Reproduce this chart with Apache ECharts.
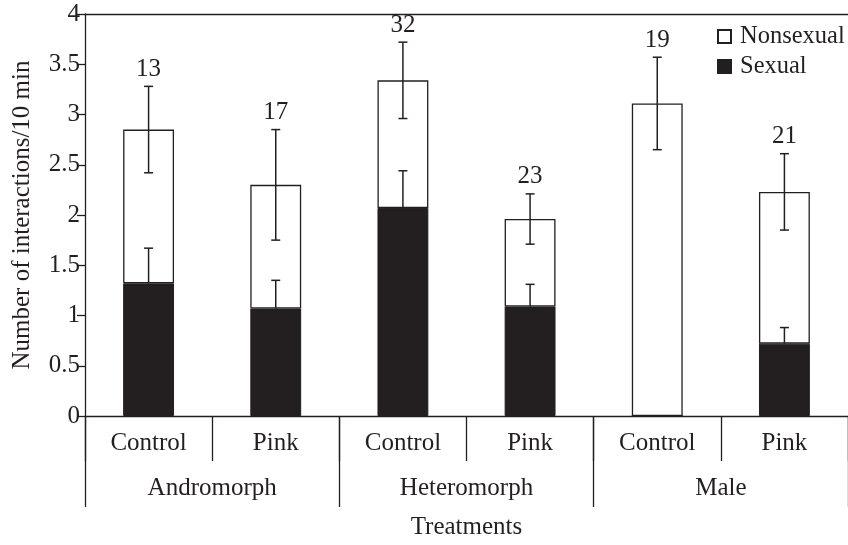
<!DOCTYPE html>
<html>
<head>
<meta charset="utf-8">
<script src="https://cdn.jsdelivr.net/npm/echarts@6/dist/echarts.min.js"></script>
<style>
html,body{margin:0;padding:0;background:#fff;overflow:hidden;}
#chart{width:848px;height:545px;}
</style>
</head>
<body>
<div id="chart"></div>
<script>
// ---- data ----
var treatments = ['Control', 'Pink', 'Control', 'Pink', 'Control', 'Pink'];
var groups = ['Andromorph', 'Heteromorph', 'Male'];
var sexual = [1.32, 1.07, 2.07, 1.09, 0, 0.72];
var nonsexual = [1.53, 1.23, 1.27, 0.87, 3.11, 1.51];
var totalErr = [0.43, 0.55, 0.38, 0.25, 0.46, 0.38];
var sexualErr = [0.35, 0.28, 0.37, 0.22, 0, 0.16];
var sampleN = [13, 17, 32, 23, 19, 21];
var yTicks = [0, 0.5, 1, 1.5, 2, 2.5, 3, 3.5, 4];

var INK = '#231f20';
var FONT = '"Liberation Serif", "Times New Roman", serif';
var FS = 25;

var totalErrData = [];
var sexErrData = [];
for (var i = 0; i < treatments.length; i++) {
  totalErrData.push([i, sexual[i] + nonsexual[i], totalErr[i], sampleN[i]]);
  sexErrData.push([i, sexual[i], sexualErr[i]]);
}

function errRender(both, showN) {
  return function (params, api) {
    var x = api.value(0), v = api.value(1), e = api.value(2);
    if (!(e > 0)) return null;
    var top = api.coord([x, v + e]);
    var bot = api.coord([x, both ? v - e : v]);
    var hw = 4.5;
    var st = { stroke: INK, lineWidth: 1.5 };
    var ch = [
      { type: 'line', shape: { x1: top[0], y1: top[1], x2: bot[0], y2: bot[1] }, style: st },
      { type: 'line', shape: { x1: top[0] - hw, y1: top[1], x2: top[0] + hw, y2: top[1] }, style: st }
    ];
    if (both) {
      ch.push({ type: 'line', shape: { x1: bot[0] - hw, y1: bot[1], x2: bot[0] + hw, y2: bot[1] }, style: st });
    }
    if (showN) {
      ch.push({ type: 'text', style: { text: String(api.value(3)), x: top[0], y: top[1] - 17,
        align: 'center', verticalAlign: 'middle', fill: INK, font: FS + 'px ' + FONT } });
    }
    return { type: 'group', children: ch };
  };
}

var chart = echarts.init(document.getElementById('chart'), null, { renderer: 'canvas' });
chart.setOption({
  animation: false,
  backgroundColor: '#fff',
  textStyle: { fontFamily: FONT, color: INK },
  grid: { left: 85, right: -4, top: 14, bottom: 125, containLabel: false },
  legend: {
    orient: 'vertical', left: 717, top: 24, padding: 0, itemWidth: 13, itemHeight: 13, itemGap: 5,
    data: ['Nonsexual', 'Sexual'],
    textStyle: { fontFamily: FONT, fontSize: 24.5, color: INK, padding: [0, 0, 0, 4] },
    icon: 'rect'
  },
  xAxis: [
    {
      type: 'category', data: treatments, position: 'bottom',
      axisLine: { show: true, lineStyle: { color: INK, width: 1.3 } },
      axisTick: { show: true, length: 45, interval: 0, lineStyle: { color: INK, width: 1.3 } },
      axisLabel: { interval: 0, margin: 15, fontFamily: FONT, fontSize: FS, color: INK }
    },
    {
      type: 'category', data: groups, position: 'bottom',
      axisLine: { show: false },
      axisTick: { show: true, length: 91, interval: 0, lineStyle: { color: INK, width: 1.3 } },
      axisLabel: { interval: 0, margin: 60, fontFamily: FONT, fontSize: FS, color: INK },
      name: 'Treatments', nameLocation: 'middle', nameGap: 99,
      nameTextStyle: { fontFamily: FONT, fontSize: FS, color: INK }
    },
    {
      type: 'category', data: treatments, position: 'top',
      axisLine: { show: true, lineStyle: { color: INK, width: 1.3 } },
      axisTick: { show: false }, axisLabel: { show: false }
    }
  ],
  yAxis: {
    type: 'value', min: yTicks[0], max: yTicks[yTicks.length - 1], interval: 0.5,
    axisLine: { show: true, lineStyle: { color: INK, width: 1.3 } },
    axisTick: { show: true, length: 8, lineStyle: { color: INK, width: 1.3 } },
    axisLabel: { margin: 5, fontFamily: FONT, fontSize: FS, color: INK },
    splitLine: { show: false },
    name: 'Number of interactions/10 min', nameLocation: 'middle', nameGap: 50,
    nameTextStyle: { fontFamily: FONT, fontSize: FS, color: INK }
  },
  series: [
    {
      name: 'Sexual', type: 'bar', stack: 'tot', xAxisIndex: 0, data: sexual, barWidth: '40%',
      itemStyle: { color: INK, borderColor: INK, borderWidth: 1 }
    },
    {
      name: 'Nonsexual', type: 'bar', stack: 'tot', xAxisIndex: 0, data: nonsexual, barWidth: '40%',
      itemStyle: { color: '#ffffff', borderColor: INK, borderWidth: 1.3 }
    },
    {
      name: 'sexErr', type: 'custom', xAxisIndex: 0, data: sexErrData, z: 5,
      encode: { x: 0, y: 1 }, renderItem: errRender(false, false), silent: true
    },
    {
      name: 'totErr', type: 'custom', xAxisIndex: 0, data: totalErrData, z: 5,
      encode: { x: 0, y: 1 }, renderItem: errRender(true, true), silent: true
    }
  ]
});
</script>
</body>
</html>
